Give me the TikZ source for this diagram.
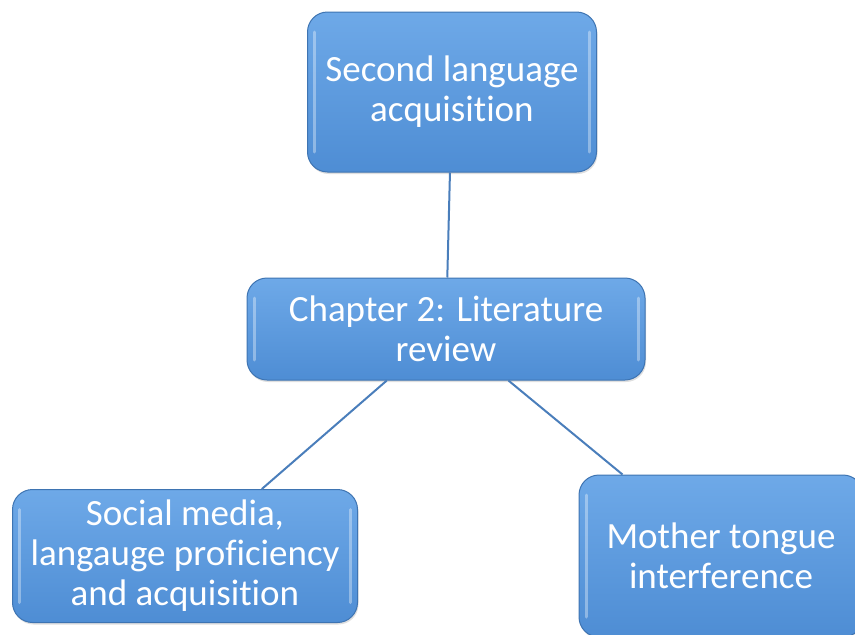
\documentclass[tikz,border=0pt]{standalone}
\usepackage{fontspec}
\setmainfont{Carlito}[Ligatures=NoCommon]
\usetikzlibrary{shadows}
\definecolor{boxtop}{HTML}{6EA9E8}
\definecolor{boxbottom}{HTML}{4E8DD4}
\definecolor{boxedge}{HTML}{3E74B2}
\definecolor{linkblue}{HTML}{4A7EBB}
\tikzset{
  topic/.style={rectangle, rounded corners=20pt, draw=boxedge, line width=1pt,
    top color=boxtop, bottom color=boxbottom, text=white, align=center,
    inner sep=0pt, drop shadow={opacity=0.25, shadow xshift=1pt, shadow yshift=-2pt},
    path picture={
      \draw[white, opacity=0.35, line width=3pt, line cap=round]
        ([shift={(7pt,-20pt)}]path picture bounding box.north west) --
        ([shift={(7pt,20pt)}]path picture bounding box.south west)
        ([shift={(-7pt,-20pt)}]path picture bounding box.north east) --
        ([shift={(-7pt,20pt)}]path picture bounding box.south east);},
    font=\fontsize{37}{40}\selectfont},
  link/.style={draw=linkblue, line width=2pt}
}
\begin{document}
\begin{tikzpicture}[x=1pt, y=1pt]
  \useasboundingbox (0,0) rectangle (855,-635);
  \clip (0,0) rectangle (855,-635);
  \node[topic, minimum width=289pt, minimum height=160pt] (second) at (452,-92) {Second language\\acquisition};
  \node[topic, minimum width=398pt, minimum height=102pt] (chapter) at (446,-329) {Chapter 2: Literature\\review};
  \node[topic, minimum width=345pt, minimum height=133pt] (social) at (185,-556) {Social media,\\langauge proficiency\\and acquisition};
  \node[topic, minimum width=284pt, minimum height=162pt] (mother) at (721,-556) {Mother tongue\\interference};
  \begin{scope}[link]
    \draw (second) to (chapter);
    \draw (chapter) to (social);
    \draw (chapter) to (mother);
  \end{scope}
\end{tikzpicture}
\end{document}
